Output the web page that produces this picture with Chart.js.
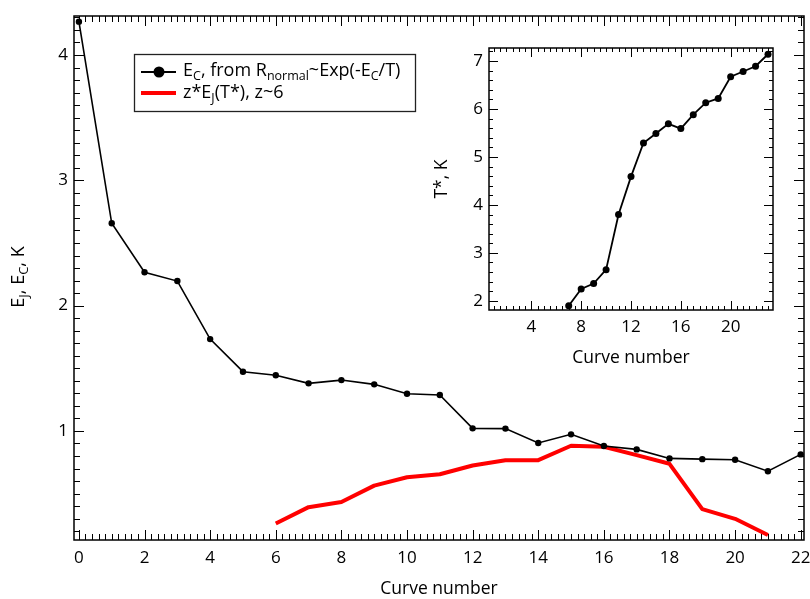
<!DOCTYPE html>
<html><head><meta charset="utf-8">
<script src="https://cdn.jsdelivr.net/npm/chart.js@4.4.0/dist/chart.umd.min.js"></script>
<style>
html,body{margin:0;padding:0;background:#fff;}
#wrap{position:relative;width:810px;height:599px;overflow:hidden;}
#main{position:absolute;left:0;top:0;}
#inset{position:absolute;left:420px;top:30px;}
</style></head><body>
<div id="wrap"><canvas id="main" width="810" height="599"></canvas><canvas id="inset" width="370" height="350"></canvas></div>
<script>
// ---- data ----
const curveNumbers = [0,1,2,3,4,5,6,7,8,9,10,11,12,13,14,15,16,17,18,19,20,21,22];
const ecValues = [4.266,2.657,2.266,2.196,1.733,1.473,1.444,1.380,1.406,1.372,1.297,1.287,1.021,1.019,0.904,0.973,0.880,0.853,0.781,0.775,0.770,0.679,0.813];
const ejCurveNumbers = [6,7,8,9,10,11,12,13,14,15,16,17,18,19,20,21];
const zEjValues = [0.262,0.392,0.433,0.564,0.631,0.655,0.724,0.767,0.767,0.882,0.874,0.807,0.738,0.376,0.299,0.170];
const insetCurveNumbers = [7,8,9,10,11,12,13,14,15,16,17,18,19,20,21,22,23];
const tStarValues = [1.90,2.25,2.36,2.65,3.80,4.59,5.29,5.49,5.69,5.59,5.88,6.13,6.22,6.67,6.78,6.89,7.14];
const mainXTicks = [0,2,4,6,8,10,12,14,16,18,20,22];
const mainYTicks = [1,2,3,4];
const insetXTicks = [4,8,12,16,20];
const insetYTicks = [2,3,4,5,6,7];

const FAMILY = '"Open Sans", "Noto Sans", sans-serif';
const pts = (xs, ys) => xs.map((x, i) => ({x: x, y: ys[i]}));

// inward IDL-style ticks and frame
const idlAxes = {
  id: 'idlAxes',
  afterDraw(chart, args, o) {
    const {ctx, chartArea: a, scales: {x, y}} = chart;
    ctx.save();
    ctx.strokeStyle = '#000';
    ctx.lineWidth = 1;
    const tickSet = (scale, step, len, horiz) => {
      const i0 = Math.ceil(scale.min / step - 1e-6), i1 = Math.floor(scale.max / step + 1e-6);
      for (let i = i0; i <= i1; i++) {
        const p = Math.round(scale.getPixelForValue(i * step)) + 0.5;
        ctx.beginPath();
        if (horiz) {
          ctx.moveTo(p, a.bottom); ctx.lineTo(p, a.bottom - len);
          ctx.moveTo(p, a.top); ctx.lineTo(p, a.top + len);
        } else {
          ctx.moveTo(a.left, p); ctx.lineTo(a.left + len, p);
          ctx.moveTo(a.right, p); ctx.lineTo(a.right - len, p);
        }
        ctx.stroke();
      }
    };
    tickSet(x, o.xMinor, o.minorLen, true);
    tickSet(x, o.xMajor, o.majorLen, true);
    tickSet(y, o.yMinor, o.minorLen, false);
    tickSet(y, o.yMajor, o.majorLen, false);
    ctx.lineWidth = o.frameWidth;
    ctx.strokeRect(a.left, a.top, a.right - a.left, a.bottom - a.top);
    ctx.restore();
  }
};

function richWidth(ctx, segs, size, subSize) {
  let w = 0;
  segs.forEach(s => { ctx.font = (s[1] ? subSize : size) + 'px ' + FAMILY; w += ctx.measureText(s[0]).width; });
  return w;
}
function drawRich(ctx, segs, x, y, size, subSize) {
  let cx = x;
  segs.forEach(s => {
    ctx.font = (s[1] ? subSize : size) + 'px ' + FAMILY;
    ctx.fillText(s[0], cx, y + (s[1] ? size * 0.3 : 0));
    cx += ctx.measureText(s[0]).width;
  });
  return cx - x;
}

const mainDecor = {
  id: 'mainDecor',
  afterDraw(chart) {
    const ctx = chart.ctx;
    ctx.save();
    ctx.fillStyle = '#000';
    ctx.textBaseline = 'middle';
    // y title (rotated)
    const ySegs = [['E',0],['J',1],[', E',0],['C',1],[', K',0]];
    ctx.translate(19, 277);
    ctx.rotate(-Math.PI / 2);
    const w = richWidth(ctx, ySegs, 18, 13);
    drawRich(ctx, ySegs, -w / 2, 0, 18, 13);
    ctx.restore();

    // legend
    const ds = chart.data.datasets;
    ctx.save();
    ctx.fillStyle = '#fff';
    ctx.fillRect(134, 54, 281, 57);
    ctx.strokeStyle = '#222';
    ctx.lineWidth = 1.3;
    ctx.strokeRect(134.5, 54.5, 281, 57);
    ctx.textBaseline = 'middle';
    ctx.fillStyle = '#000';
    // entry 1
    ctx.strokeStyle = ds[0].borderColor; ctx.lineWidth = 2;
    ctx.beginPath(); ctx.moveTo(141, 72); ctx.lineTo(176, 72); ctx.stroke();
    ctx.fillStyle = ds[0].pointBackgroundColor;
    ctx.beginPath(); ctx.arc(159, 72, 5.5, 0, Math.PI * 2); ctx.fill();
    ctx.fillStyle = '#000';
    drawRich(ctx, [['E',0],['C',1],[', from R',0],['normal',1],['~Exp(-E',0],['C',1],['/T)',0]], 183, 71, 18, 12.5);
    // entry 2
    ctx.strokeStyle = ds[1].borderColor; ctx.lineWidth = ds[1].borderWidth;
    ctx.beginPath(); ctx.moveTo(141, 93); ctx.lineTo(176, 93); ctx.stroke();
    drawRich(ctx, [['z*E',0],['J',1],['(T*), z~6',0]], 183, 93, 18, 12.5);
    ctx.restore();
  }
};

const tickFont = {family: FAMILY, size: 17};
const titleFont = {family: FAMILY, size: 17.5, lineHeight: 1.1};

new Chart(document.getElementById('main'), {
  type: 'line',
  data: {
    datasets: [
      {label: 'E_C', data: pts(curveNumbers, ecValues), borderColor: '#000', backgroundColor: '#000',
       pointBackgroundColor: '#000', pointBorderWidth: 0, pointRadius: 3.2, borderWidth: 1.6, tension: 0},
      {label: 'zEJ', data: pts(ejCurveNumbers, zEjValues), borderColor: '#ff0000', backgroundColor: '#ff0000',
       pointRadius: 0, borderWidth: 4, tension: 0, borderJoinStyle: 'round'}
    ]
  },
  options: {
    responsive: false, animation: false, events: [],
    layout: {padding: {top: 16, right: 6, left: 0, bottom: 0}},
    plugins: {legend: {display: false}, tooltip: {enabled: false},
      idlAxes: {xMajor: 2, xMinor: 0.2, yMajor: 1, yMinor: 0.1, majorLen: 10, minorLen: 6, frameWidth: 1.5}},
    scales: {
      x: {type: 'linear', min: -0.15, max: 22.1,
        afterBuildTicks: s => { s.ticks = mainXTicks.map(v => ({value: v})); },
        afterFit: s => { s.height = 59; s.paddingLeft = 0; s.paddingRight = 0; },
        grid: {display: false, drawTicks: false}, border: {display: false},
        ticks: {padding: 8, color: '#000', font: tickFont, maxRotation: 0, autoSkip: false},
        title: {display: true, text: 'Curve number', color: '#000', font: titleFont, padding: {top: 0, bottom: 0}}},
      y: {type: 'linear', min: 0.13, max: 4.311,
        afterBuildTicks: s => { s.ticks = mainYTicks.map(v => ({value: v})); },
        afterFit: s => { s.width = 74; s.paddingTop = 0; s.paddingBottom = 0; },
        grid: {display: false, drawTicks: false}, border: {display: false},
        ticks: {padding: 6, color: '#000', font: tickFont, autoSkip: false}}
    }
  },
  plugins: [idlAxes, mainDecor]
});

new Chart(document.getElementById('inset'), {
  type: 'line',
  data: {
    datasets: [
      {label: 'T*', data: pts(insetCurveNumbers, tStarValues), borderColor: '#000', backgroundColor: '#000',
       pointBackgroundColor: '#000', pointBorderWidth: 0, pointRadius: 3.5, borderWidth: 1.8, tension: 0}
    ]
  },
  options: {
    responsive: false, animation: false, events: [],
    layout: {padding: {top: 18, right: 17, left: 0, bottom: 0}},
    plugins: {legend: {display: false}, tooltip: {enabled: false},
      idlAxes: {xMajor: 4, xMinor: 0.5, yMajor: 1, yMinor: 0.2, majorLen: 9, minorLen: 4, frameWidth: 1.5}},
    scales: {
      x: {type: 'linear', min: 0.6, max: 23.4,
        afterBuildTicks: s => { s.ticks = insetXTicks.map(v => ({value: v})); },
        afterFit: s => { s.height = 70; s.paddingLeft = 0; s.paddingRight = 0; },
        grid: {display: false, drawTicks: false}, border: {display: false},
        ticks: {padding: 7, color: '#000', font: tickFont, maxRotation: 0, autoSkip: false},
        title: {display: true, text: 'Curve number', color: '#000', font: titleFont, padding: {top: 0, bottom: 12}}},
      y: {type: 'linear', min: 1.81, max: 7.27,
        afterBuildTicks: s => { s.ticks = insetYTicks.map(v => ({value: v})); },
        afterFit: s => { s.width = 69; s.paddingTop = 0; s.paddingBottom = 0; },
        grid: {display: false, drawTicks: false}, border: {display: false},
        ticks: {padding: 6, color: '#000', font: tickFont, autoSkip: false},
        title: {display: true, text: 'T*, K', color: '#000', font: titleFont, padding: {top: 12, bottom: 0}}}
    }
  },
  plugins: [idlAxes]
});
</script>
</body></html>
